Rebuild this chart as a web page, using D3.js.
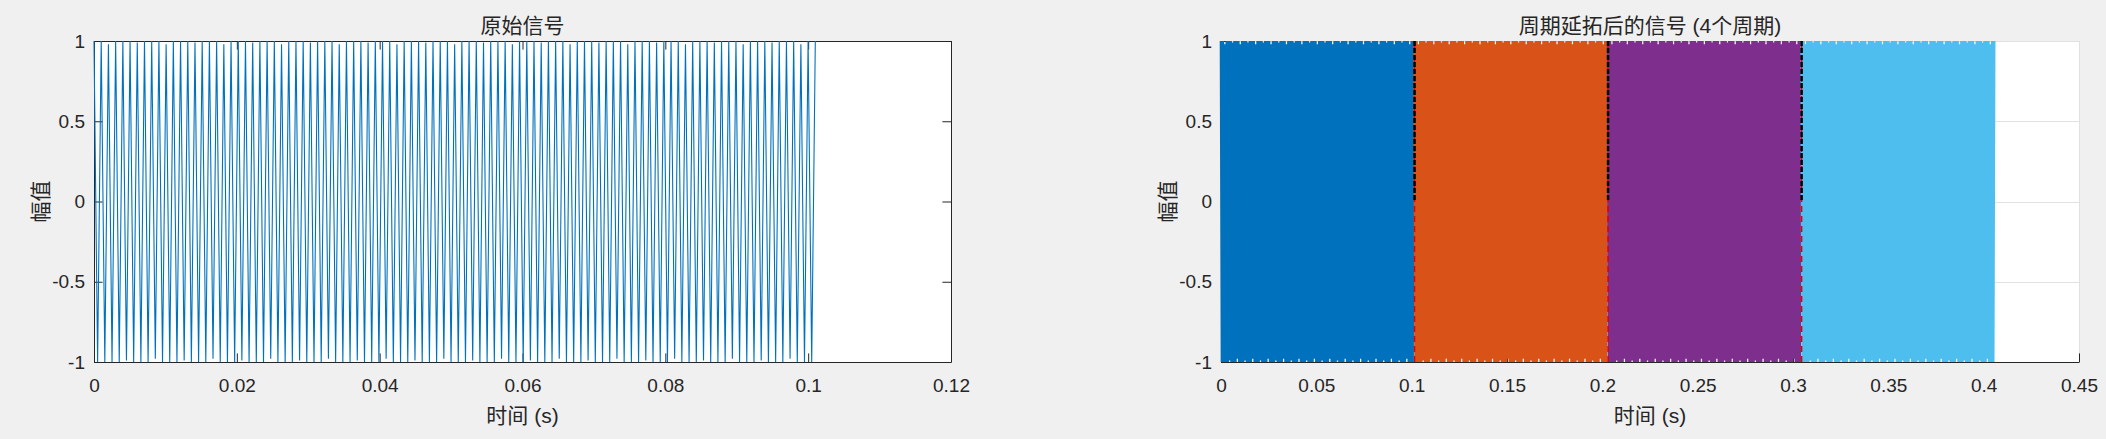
<!DOCTYPE html>
<html>
<head>
<meta charset="utf-8">
<script src="https://cdn.jsdelivr.net/npm/d3@7"></script>
<style>
  html, body { margin: 0; padding: 0; background: #f0f0f0; }
  svg { display: block; }
  text { font-family: "Liberation Sans", "Noto Sans CJK SC", sans-serif; fill: #262626; }
</style>
</head>
<body>
<div id="main"></div>
<script>
var sampleStep = 0.000505; // seconds between samples
var signalValues = [
  1, -1, 1, -1, 0.98, -1, 1, -1, 1, -0.99,
  1, -1, 0.99, -1, 1, -1, 1, -0.98, 1, -1,
  0.98, -1, 1, -1, 1, -0.99, 1, -1, 0.99, -1,
  1, -1, 1, -0.98, 1, -1, 0.98, -1, 1, -1,
  1, -0.99, 1, -1, 0.99, -1, 1, -1, 1, -0.98,
  1, -1, 0.98, -1, 1, -1, 1, -0.99, 1, -1,
  0.99, -1, 1, -1, 1, -0.98, 1, -1, 0.98, -1,
  1, -1, 1, -0.99, 1, -1, 0.99, -1, 1, -1,
  1, -0.98, 1, -1, 0.98, -1, 1, -1, 1, -0.99,
  1, -1, 0.99, -1, 1, -1, 1, -0.98, 1, -1,
  0.98, -1, 1, -1, 1, -0.99, 1, -1, 0.99, -1,
  1, -1, 1, -0.98, 1, -1, 0.98, -1, 1, -1,
  1, -0.99, 1, -1, 0.99, -1, 1, -1, 1, -0.98,
  1, -1, 0.98, -1, 1, -1, 1, -0.99, 1, -1,
  0.99, -1, 1, -1, 1, -0.98, 1, -1, 0.98, -1,
  1, -1, 1, -0.99, 1, -1, 0.99, -1, 1, -1,
  1, -0.98, 1, -1, 0.98, -1, 1, -1, 1, -0.99,
  1, -1, 0.99, -1, 1, -1, 1, -0.98, 1, -1,
  0.98, -1, 1, -1, 1, -0.99, 1, -1, 0.99, -1,
  1, -1, 1, -0.98, 1, -1, 0.98, -1, 1, -1,
  1
];

var periodIndex = [0, 1, 2, 3];
var periodColors = ["#0072BD", "#D95319", "#7E2F8E", "#4DBEEE"];
var boundaryIndex = [1, 2, 3];

var yTicks = [-1, -0.5, 0, 0.5, 1];
var yTickLabels = ["-1", "-0.5", "0", "0.5", "1"];
var leftXTicks = [0, 0.02, 0.04, 0.06, 0.08, 0.1, 0.12];
var leftXTickLabels = ["0", "0.02", "0.04", "0.06", "0.08", "0.1", "0.12"];
var rightXTicks = [0, 0.05, 0.1, 0.15, 0.2, 0.25, 0.3, 0.35, 0.4, 0.45];
var rightXTickLabels = ["0", "0.05", "0.1", "0.15", "0.2", "0.25", "0.3", "0.35", "0.4", "0.45"];

var leftTitle = "原始信号";
var rightTitle = "周期延拓后的信号 (4个周期)";
var xLabel = "时间 (s)";
var yLabel = "幅值";

var W = 2106, H = 439;
var plotTop = 41, plotBottom = 362;
var tickLen = 8.6;
var axisColor = "#262626";
var gridColor = "#e1e1e1";

var svg = d3.select("#main").append("svg")
    .attr("width", W)
    .attr("height", H);

var period = signalValues.length * sampleStep;

function drawPanel(opt) {
    var x = d3.scaleLinear().domain(opt.xDomain).range([opt.x0, opt.x1]);
    var y = d3.scaleLinear().domain([-1, 1]).range([plotBottom, plotTop]);
    var g = svg.append("g");

    g.append("rect")
        .attr("x", opt.x0).attr("y", plotTop)
        .attr("width", opt.x1 - opt.x0).attr("height", plotBottom - plotTop)
        .attr("fill", "#fff");

    if (opt.grid) {
        // grid lines (below data)
        g.selectAll(".gx").data(opt.xTicks).enter().append("line")
            .attr("x1", function (d) { return Math.round(x(d)) + 0.5; })
            .attr("x2", function (d) { return Math.round(x(d)) + 0.5; })
            .attr("y1", plotTop).attr("y2", plotBottom)
            .attr("stroke", gridColor);
        g.selectAll(".gy").data(yTicks).enter().append("line")
            .attr("y1", function (d) { return Math.round(y(d)) + 0.5; })
            .attr("y2", function (d) { return Math.round(y(d)) + 0.5; })
            .attr("x1", opt.x0).attr("x2", opt.x1)
            .attr("stroke", gridColor);
    }

    var xAxis = d3.axisBottom(x).tickValues(opt.xTicks)
        .tickFormat(function (d, i) { return opt.xLabels[i]; })
        .tickSizeInner(-tickLen).tickSizeOuter(0).tickPadding(17);
    var gx = g.append("g").attr("transform", "translate(0," + plotBottom + ")").call(xAxis);

    var yAxis = d3.axisLeft(y).tickValues(yTicks)
        .tickFormat(function (d, i) { return yTickLabels[i]; })
        .tickSizeInner(-tickLen).tickSizeOuter(0).tickPadding(9);
    var gy = g.append("g").attr("transform", "translate(" + opt.x0 + ",0)").call(yAxis);

    [gx, gy].forEach(function (a) {
        a.selectAll("path, line").attr("stroke", axisColor);
        a.selectAll("text").attr("fill", axisColor)
            .style("font-size", "19px")
            .style("font-family", "'Liberation Sans', Arial, sans-serif");
    });

    if (opt.box) {
        var xTop = d3.axisTop(x).tickValues(opt.xTicks).tickFormat("")
            .tickSizeInner(-tickLen).tickSizeOuter(0);
        g.append("g").attr("transform", "translate(0," + plotTop + ")").call(xTop)
            .selectAll("path, line").attr("stroke", axisColor);
        var yRight = d3.axisRight(y).tickValues(yTicks).tickFormat("")
            .tickSizeInner(-tickLen).tickSizeOuter(0);
        g.append("g").attr("transform", "translate(" + opt.x1 + ",0)").call(yRight)
            .selectAll("path, line").attr("stroke", axisColor);
    }

    // titles and labels
    var cx = (opt.x0 + opt.x1) / 2;
    g.append("text").attr("x", cx).attr("y", 33)
        .attr("text-anchor", "middle").style("font-size", "21px").attr("fill", "#000")
        .text(opt.title);
    g.append("text").attr("x", cx).attr("y", 423)
        .attr("text-anchor", "middle").style("font-size", "21px")
        .text(xLabel);
    g.append("text")
        .attr("transform", "translate(" + (opt.x0 - 46) + "," + ((plotTop + plotBottom) / 2) + ") rotate(-90)")
        .attr("text-anchor", "middle").style("font-size", "21px")
        .text(yLabel);

    return { g: g, x: x, y: y };
}

// left panel: original signal
var left = drawPanel({
    x0: 94, x1: 951, xDomain: [0, 0.12],
    xTicks: leftXTicks, xLabels: leftXTickLabels,
    title: leftTitle, box: true, grid: false
});

left.g.append("path")
    .datum(signalValues)
    .attr("fill", "none")
    .attr("stroke", periodColors[0])
    .attr("stroke-width", 1.1)
    .attr("d", d3.line()
        .x(function (d, i) { return left.x(i * sampleStep); })
        .y(function (d) { return left.y(d); }));

// right panel: periodic extension (dense enough to look solid)
var right = drawPanel({
    x0: 1221, x1: 2079, xDomain: [0, 0.45],
    xTicks: rightXTicks, xLabels: rightXTickLabels,
    title: rightTitle, box: false, grid: true
});

periodIndex.forEach(function (k) {
    right.g.append("path")
        .datum(signalValues)
        .attr("fill", "none")
        .attr("stroke", periodColors[k])
        .attr("stroke-width", 2.6)
        .attr("stroke-linejoin", "bevel")
        .attr("d", d3.line()
            .x(function (d, i) { return right.x(k * period + i * sampleStep); })
            .y(function (d) { return right.y(d); }));
});

// period boundaries
right.g.selectAll(".bred").data(boundaryIndex).enter().append("line")
    .attr("x1", function (k) { return right.x(k * period); })
    .attr("x2", function (k) { return right.x(k * period); })
    .attr("y1", right.y(-1)).attr("y2", right.y(1))
    .attr("stroke", "#e00000").attr("stroke-width", 1.5)
    .attr("stroke-dasharray", "6,4");
right.g.selectAll(".bblack").data(boundaryIndex).enter().append("line")
    .attr("x1", function (k) { return right.x(k * period); })
    .attr("x2", function (k) { return right.x(k * period); })
    .attr("y1", right.y(1)).attr("y2", right.y(0))
    .attr("stroke", "#000").attr("stroke-width", 2.5)
    .attr("stroke-dasharray", "5,2");
</script>
</body>
</html>
